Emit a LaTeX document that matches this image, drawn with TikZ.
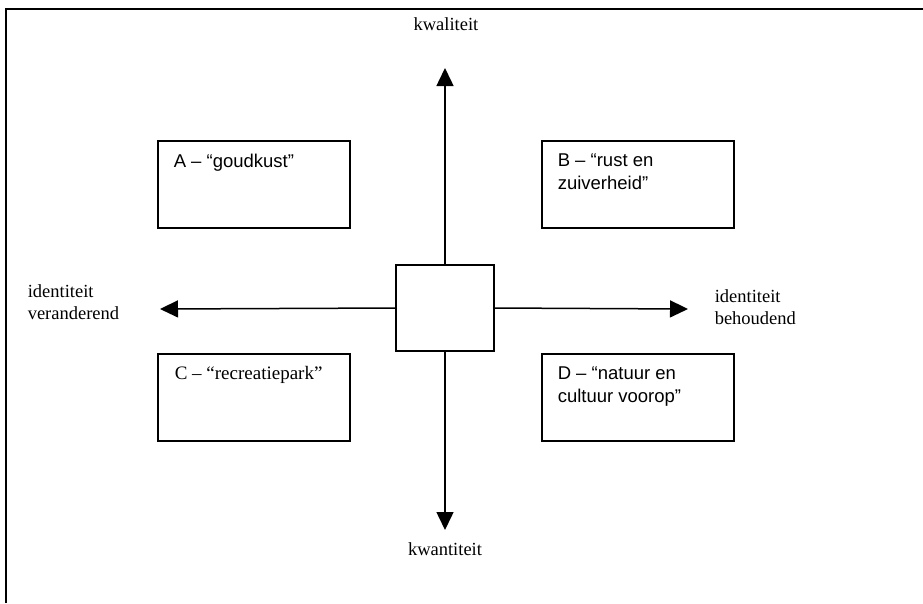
\documentclass[tikz,border=0pt]{standalone}
\usepackage{fontspec}
\setmainfont{Liberation Serif}
\newfontfamily\arialf{Liberation Sans}
\usetikzlibrary{arrows.meta}
\begin{document}
\begin{tikzpicture}[x=1pt,y=-1pt,
  line width=1.5pt,
  quadbox/.style={draw, line width=1.5pt, minimum width=192pt, minimum height=87pt, anchor=north west, inner sep=0pt},
  boxtext/.style={anchor=north west, align=left, font=\arialf\fontsize{18.5}{23}\selectfont, inner sep=0pt},
  boxtextserif/.style={anchor=north west, align=left, font=\fontsize{19}{22}\selectfont, inner sep=0pt},
  axislabel/.style={font=\fontsize{18.5}{22}\selectfont, inner sep=0pt, align=left},
  axisarrow/.style={-{Triangle[length=18pt,width=17pt]}, line width=1.5pt}
]
\useasboundingbox (0,0) rectangle (923,603);
\draw[line width=1.5pt] (6,603) -- (6,9) -- (923,9);

% quadrant boxes
\node[quadbox] (A) at (157,140) {};
\node[quadbox] (B) at (541,140) {};
\node[quadbox] (C) at (157,353) {};
\node[quadbox] (D) at (541,353) {};

\node[boxtext] (tA) at (173,153) {A – “goudkust”};
\node[boxtext] (tB) at (557,153) {B – “rust en\\zuiverheid”};
\node[boxtextserif] (tC) at (174,366) {C – “recreatiepark”};
\node[boxtext] (tD) at (557,366) {D – “natuur en\\cultuur voorop”};

% centre square
\node[draw, line width=1.5pt, minimum width=98pt, minimum height=86pt, inner sep=0pt] (M) at (445,308) {};

% axis end points
\coordinate (up) at (445,68);
\coordinate (down) at (445,530);
\coordinate (left) at (160,309);
\coordinate (right) at (688,309);

\draw[axisarrow] (M.north) -- (up);
\draw[axisarrow] (M.south) -- (down);
\draw[axisarrow] (M.west) -- (left);
\draw[axisarrow] (M.east) -- (right);

% axis labels
\node[axislabel] (kwal) at (446,24) {kwaliteit};
\node[axislabel] (kwan) at (445,549) {kwantiteit};
\node[axislabel, anchor=west] (veran) at (27,302) {identiteit\\veranderend};
\node[axislabel, anchor=west] (behoud) at (714,307) {identiteit\\behoudend};
\end{tikzpicture}
\end{document}
